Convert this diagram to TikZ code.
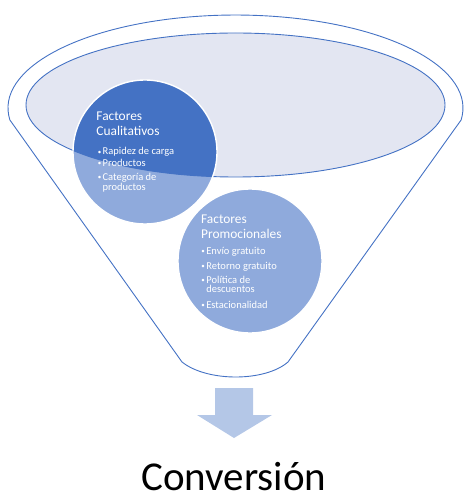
\documentclass[tikz,border=0pt]{standalone}
\usepackage{fontspec}
\setmainfont{Carlito}

\definecolor{funnelblue}{HTML}{4472C4}
\definecolor{lightblue}{HTML}{8FAADC}
\definecolor{rimfill}{HTML}{E3E6F2}
\definecolor{arrowblue}{HTML}{B4C7E7}

\newcommand{\itm}[1]{\makebox[4.9pt][l]{\raisebox{0.8pt}{\fontsize{7}{7}\selectfont\textbullet}}#1}

\begin{document}
\begin{tikzpicture}[line width=0.9pt, line join=round, x=1pt, y=-1pt,
  title/.style={text=white, font=\fontsize{13.4}{15}\selectfont, inner sep=0pt, anchor=base west},
  item/.style={text=white, font=\fontsize{10.5}{11}\selectfont, inner sep=0pt, anchor=base west},
  ball/.style={circle, minimum size=144pt, inner sep=0pt}]
  \useasboundingbox (0,0) rectangle (472,502);
  \draw[funnelblue] (9.9,120) arc[start angle=172.6, end angle=367.4, x radius=227.5, y radius=93]
    -- (288,362) .. controls (265,382) and (207,382) .. (182,362) -- cycle;   % funnel
  \fill[rimfill] (235.5,105) ellipse[x radius=209.5, y radius=72];
  \node[ball, fill=lightblue] (c1) at (145,152) {};
  \begin{scope}
    \clip (235.5,105) ellipse[x radius=209.5, y radius=72];
    \fill[funnelblue] (c1.center) circle[radius=72];
  \end{scope}
  \draw[funnelblue] (235.5,105) ellipse[x radius=209.5, y radius=72];   % rim
  \draw[white, line width=1.4pt] (c1.center) circle[radius=72];
  \node[ball, fill=lightblue, draw=white, line width=1.4pt] (c2) at (250,261) {};
  \foreach \n/\x/\y/\t in {fa/96/120.7/Factores, fb/96/136/Cualitativos, pa/200.7/223/Factores, pb/200.7/238/Promocionales}
    \node[title] (\n) at (\x,\y) {\t};
  \foreach \n/\x/\y/\t in {b1/97.3/155/\itm{Rapidez de carga}, b2/97.3/166.7/\itm{Productos}, b3/97.3/180.7/\itm{Categoría de}, b4/102.2/190.7/productos,
      d1/201/254.3/\itm{Envío gratuito}, d2/201/269/\itm{Retorno gratuito}, d3/201/283/\itm{Política de}, d4/205.9/292.7/descuentos, d5/201/308.3/\itm{Estacionalidad}}
    \node[item] (\n) at (\x,\y) {\t};
  \fill[arrowblue] (215,388) -- (253,388) -- (253,415) -- (272,415) -- (234,438) -- (197,415) -- (215,415) -- cycle;   % down arrow
  \node[font=\fontsize{41}{50}\selectfont, inner sep=0pt, anchor=base] (conv) at (234,490) {Conversión};
\end{tikzpicture}
\end{document}
